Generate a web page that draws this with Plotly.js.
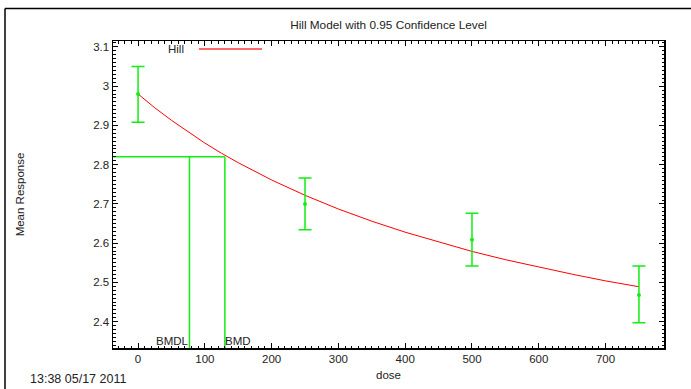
<!DOCTYPE html>
<html>
<head>
<meta charset="utf-8">
<script src="https://cdn.plot.ly/plotly-3.0.1.min.js"></script>
<style>html,body{margin:0;padding:0;background:#fff;}#chart{width:691px;height:389px;}</style>
</head>
<body>
<div id="chart"></div>
<script>
// Observed data (dose groups, means, 95% CI bounds)
var doses = [0, 250, 500, 750];
var means = [2.98, 2.70, 2.609, 2.468];
var upper = [3.05, 2.766, 2.676, 2.542];
var lower = [2.908, 2.634, 2.542, 2.397];

// Fitted Hill model curve
var curveDose = [0, 25, 50, 75, 100, 125, 150, 200, 250, 300, 350, 400, 450, 500, 550, 600, 650, 700, 750];
var curveResp = [2.980, 2.945, 2.913, 2.883, 2.855, 2.829, 2.805, 2.761, 2.722, 2.687, 2.656, 2.628, 2.603, 2.579, 2.558, 2.539, 2.521, 2.504, 2.489];

// Benchmark dose values
var bmdl = 77;
var bmd = 130;
var bmrLevel = 2.82;

var xRange = [-37.5, 787.5];
var yRange = [2.333, 3.115];

var green = '#11ee11';
var red = '#ff0000';
var font = 'Liberation Sans, Arial, Helvetica, sans-serif';
var fs = 11.5;

var traces = [
  {
    x: curveDose, y: curveResp, mode: 'lines', type: 'scatter',
    line: {color: red, width: 1}, showlegend: false, hoverinfo: 'skip'
  },
  {
    x: doses, y: means, mode: 'markers', type: 'scatter',
    marker: {color: green, size: 4, symbol: 'circle'},
    error_y: {
      type: 'data', symmetric: false,
      array: upper.map(function(u, i){ return u - means[i]; }),
      arrayminus: lower.map(function(l, i){ return means[i] - l; }),
      color: green, thickness: 1.5, width: 6.5
    },
    showlegend: false
  },
  {
    x: [xRange[0], bmd], y: [bmrLevel, bmrLevel], mode: 'lines', type: 'scatter',
    line: {color: green, width: 1.5}, showlegend: false, hoverinfo: 'skip'
  },
  {
    x: [bmdl, bmdl], y: [bmrLevel, yRange[0]], mode: 'lines', type: 'scatter',
    line: {color: green, width: 1.5}, showlegend: false, hoverinfo: 'skip'
  },
  {
    x: [bmd, bmd], y: [bmrLevel, yRange[0]], mode: 'lines', type: 'scatter',
    line: {color: green, width: 1.5}, showlegend: false, hoverinfo: 'skip'
  }
];

var axisCommon = {
  showgrid: false, zeroline: false, showline: true, linecolor: '#000', linewidth: 1.5,
  mirror: 'ticks', ticks: 'inside', ticklen: 5, tickwidth: 1, tickcolor: '#000',
  tickfont: {family: font, size: fs, color: '#222'}
};

var layout = {
  width: 691, height: 389,
  margin: {l: 113, r: 27, t: 41, b: 41},
  paper_bgcolor: '#fff', plot_bgcolor: '#fff',
  font: {family: font, size: fs, color: '#222'},
  title: {text: 'Hill Model with 0.95 Confidence Level', x: 0.5, xref: 'paper', xanchor: 'center',
          y: 0.936, yref: 'container', yanchor: 'middle', font: {family: font, size: 11.8, color: '#222'}},
  xaxis: Object.assign({}, axisCommon, {
    range: xRange, tick0: 0, dtick: 100,
    minor: {dtick: 10, tick0: 0, ticks: 'inside', ticklen: 2.5, tickcolor: '#000', tickwidth: 1, showgrid: false},
    title: {text: 'dose', font: {family: font, size: fs, color: '#222'}, standoff: 6}
  }),
  yaxis: Object.assign({}, axisCommon, {
    range: yRange, tick0: 2.4, dtick: 0.1,
    minor: {dtick: 0.01, tick0: 2.4, ticks: 'inside', ticklen: 2.5, tickcolor: '#000', tickwidth: 1, showgrid: false},
    title: {text: 'Mean Response', font: {family: font, size: fs, color: '#222'}, standoff: 66}
  }),
  showlegend: false,
  annotations: [
    {text: 'BMDL', x: bmdl, xref: 'x', xanchor: 'right', y: 0.0, yref: 'paper', yanchor: 'bottom',
     showarrow: false, font: {family: font, size: fs, color: '#222'}, xshift: 2, yshift: -1},
    {text: 'BMD', x: bmd, xref: 'x', xanchor: 'left', y: 0.0, yref: 'paper', yanchor: 'bottom',
     showarrow: false, font: {family: font, size: fs, color: '#222'}, xshift: -2, yshift: -1},
    {text: 'Hill', x: 0.097, xref: 'paper', xanchor: 'left', y: 0.974, yref: 'paper', yanchor: 'middle',
     showarrow: false, font: {family: font, size: fs, color: '#222'}},
    {text: '13:38 05/17 2011', x: -0.1545, xref: 'paper', xanchor: 'left', y: -0.1, yref: 'paper', yanchor: 'middle',
     showarrow: false, font: {family: font, size: 12.5, color: '#222'}}
  ],
  shapes: [
    {type: 'line', xref: 'paper', yref: 'paper', x0: 0.156, x1: 0.2704, y0: 0.974, y1: 0.974,
     line: {color: '#ff6a6a', width: 2}},
    {type: 'line', xref: 'paper', yref: 'paper', x0: -0.196, x1: 1.05, y0: 1.1059, y1: 1.1059,
     line: {color: '#000', width: 1.5}},
    {type: 'line', xref: 'paper', yref: 'paper', x0: -0.196, x1: -0.196, y0: 1.1059, y1: -0.14,
     line: {color: '#000', width: 1.5}}
  ]
};

Plotly.newPlot('chart', traces, layout, {displayModeBar: false, staticPlot: true});
</script>
</body>
</html>
